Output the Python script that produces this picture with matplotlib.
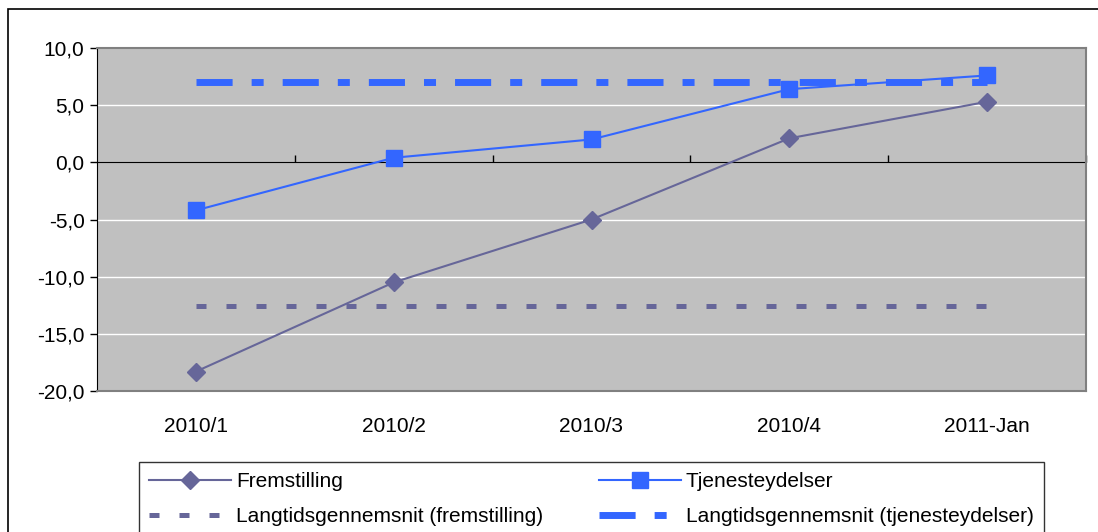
import numpy as np
import matplotlib
matplotlib.use("Agg")
import matplotlib.pyplot as plt
from matplotlib.patches import Rectangle
from matplotlib.ticker import FuncFormatter

plt.rcParams['font.family'] = ['Liberation Sans', 'DejaVu Sans']

categories = ["2010/1", "2010/2", "2010/3", "2010/4", "2011-Jan"]
fremstilling = [-18.3, -10.5, -5.0, 2.1, 5.3]
tjeneste = [-4.2, 0.4, 2.0, 6.4, 7.6]
avg_frem = [-12.6] * 5
avg_tjen = [7.0] * 5

col_frem = "#666699"
col_tjen = "#3366FF"

fig = plt.figure(figsize=(10.98, 5.32), dpi=100)
ax = fig.add_axes([97/1098, 1 - 391/532, (1086 - 97)/1098, (391 - 48)/532])
ax.set_facecolor("#C0C0C0")

x = np.arange(len(categories)) + 0.5

l1, = ax.plot(x, fremstilling, color=col_frem, lw=1.5, marker="D", ms=9,
              label="Fremstilling", zorder=4)
l2, = ax.plot(x, tjeneste, color=col_tjen, lw=1.5, marker="s", ms=12,
              label="Tjenesteydelser", zorder=4)
l3, = ax.plot(x, avg_frem, color=col_frem, lw=3.6, dashes=(2.0, 4.0),
              dash_capstyle="butt",
              label="Langtidsgennemsnit (fremstilling)", zorder=3)
l4, = ax.plot(x, avg_tjen, color=col_tjen, lw=5, dashes=(5.2, 2.74, 1.73, 2.74),
              dash_capstyle="butt",
              label="Langtidsgennemsnit (tjenesteydelser)", zorder=3)

ax.set_xlim(0, 5)
ax.set_ylim(-20, 10)
ax.set_yticks(np.arange(-20, 11, 5))
ax.yaxis.set_major_formatter(FuncFormatter(lambda v, p: ("%.1f" % v).replace(".", ",")))
for yv in [-15, -10, -5, 5]:
    ax.axhline(yv, color="white", lw=1, zorder=1)

ax.set_xticks(x)
ax.set_xticklabels(categories)
ax.tick_params(axis="x", length=0, pad=19, labelsize=15)
ax.tick_params(axis="y", length=5, width=1, color="black", labelsize=15, pad=4)

for s in ["top", "right", "bottom"]:
    ax.spines[s].set_color("#808080")
    ax.spines[s].set_linewidth(1.5)
ax.spines["left"].set_color("black")

# horizontal axis line at zero with category boundary ticks
sec = ax.secondary_xaxis(2/3)
sec.set_xticks([1, 2, 3, 4, 5])
sec.set_xticklabels([])
sec.tick_params(length=5, width=1, color="black", direction="out")
sec.spines["bottom"].set_color("black")
sec.spines["bottom"].set_linewidth(1)

# outer chart border
fig.add_artist(Rectangle((8/1098, -0.1), 1.2, 1 - 9/532 + 0.1, transform=fig.transFigure,
                         fill=False, ec="black", lw=1.2, clip_on=False))

leg = fig.legend([l1, l3, l2, l4],
                 [l1.get_label(), l3.get_label(), l2.get_label(), l4.get_label()],
                 ncol=2, loc="upper left", bbox_to_anchor=(139/1098, 1 - 462/532),
                 prop={"size": 15}, handlelength=3.9, handletextpad=0.25,
                 columnspacing=2.7, labelspacing=0.75, borderpad=0.5, borderaxespad=0,
                 frameon=True, fancybox=False, edgecolor="black")
leg.get_frame().set_linewidth(1)

fig.savefig("out.png", dpi=100)
